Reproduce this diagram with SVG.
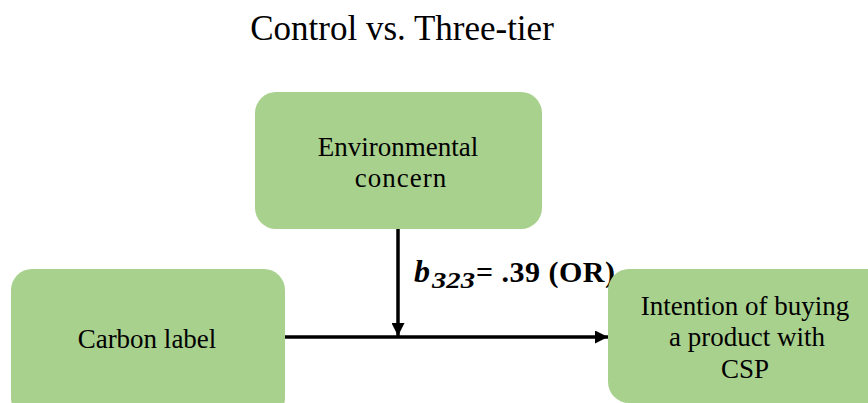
<svg xmlns="http://www.w3.org/2000/svg" width="868" height="403" viewBox="0 0 868 403">
  <defs>
    <style>
      .box { fill: #A9D18E; }
      .lbl { font-family: "Liberation Serif", "Times New Roman", serif; font-size: 27px; fill: #000; text-anchor: middle; }
      .title { font-family: "Liberation Serif", "Times New Roman", serif; font-size: 35px; fill: #000; text-anchor: middle; }
      .coef { font-family: "Liberation Serif", "Times New Roman", serif; font-weight: bold; fill: #000; }
      .conn { stroke: #000; stroke-width: 3.5; fill: none; }
    </style>
    <marker id="arrow" viewBox="0 0 10 10" refX="10" refY="5" markerUnits="userSpaceOnUse" markerWidth="13" markerHeight="13" orient="auto">
      <path d="M0,0 L10,5 L0,10 Z" fill="#000"/>
    </marker>
  </defs>
  <rect width="868" height="403" fill="#fff"/>

  <text class="title" x="402" y="40">Control vs. Three-tier</text>

  <g id="connectors">
    <line class="conn" x1="285" y1="337" x2="608" y2="337" marker-end="url(#arrow)"/>
    <line class="conn" x1="398" y1="229" x2="398" y2="336" marker-end="url(#arrow)"/>
    <text class="coef" x="414" y="282" font-size="32" font-style="italic">b</text>
    <text class="coef" x="432" y="288" font-size="24" font-style="italic" textLength="43" lengthAdjust="spacingAndGlyphs">323</text>
    <text class="coef" x="476" y="282" font-size="30" textLength="139">= .39 (OR)</text>
  </g>

  <g id="environmental-concern">
    <rect class="box" x="255" y="92" width="287" height="137" rx="21"/>
    <text class="lbl" x="398" y="156">Environmental</text>
    <text class="lbl" x="401" y="187" letter-spacing="1">concern</text>
  </g>

  <g id="carbon-label">
    <rect class="box" x="11" y="269" width="274" height="150" rx="21"/>
    <text class="lbl" x="147" y="348">Carbon label</text>
  </g>

  <g id="purchase-intention">
    <rect class="box" x="608" y="269" width="280" height="134" rx="21"/>
    <text class="lbl" x="745" y="315">Intention of buying</text>
    <text class="lbl" x="747" y="346">a product with</text>
    <text class="lbl" x="745" y="378">CSP</text>
  </g>
</svg>
